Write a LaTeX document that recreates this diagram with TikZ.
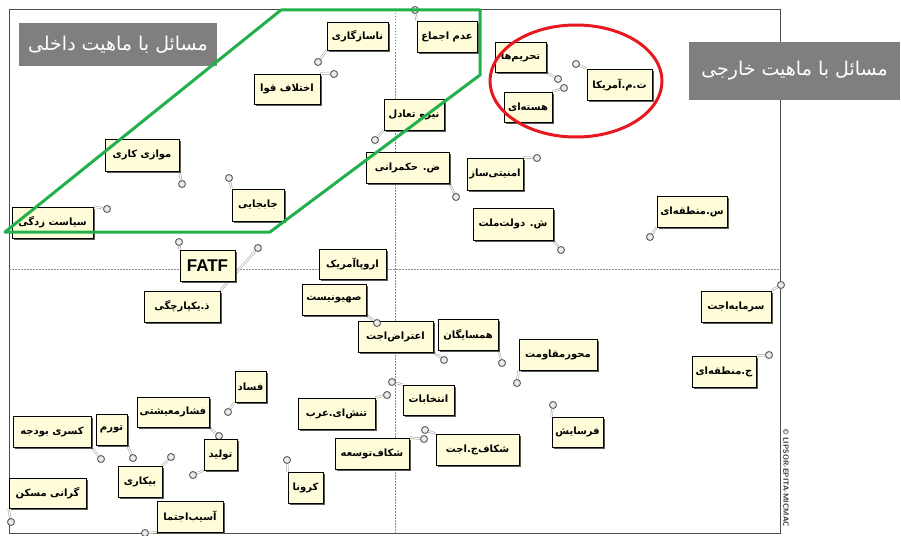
\documentclass[tikz,border=0pt]{standalone}
\usepackage{fontspec}
\usetikzlibrary{shadows}
\TeXXeTstate=1
\newfontfamily\fa[Script=Arabic]{DejaVu Sans}
\newfontfamily\lat{Liberation Sans}
\newcommand{\fr}[1]{\fa\bfseries\beginR #1\endR}
\pgfdeclarelayer{bg}
\pgfdeclarelayer{conn}
\pgfdeclarelayer{top}
\pgfsetlayers{bg,conn,main,top}
\definecolor{boxfill}{HTML}{FFFCDA}
\definecolor{grn}{HTML}{22B04A}
\definecolor{rd}{HTML}{E81820}
\definecolor{graylab}{HTML}{7F7F7F}
\tikzset{
  lb/.style={draw=black, line width=0.9pt, fill=boxfill, inner sep=0pt,
    font=\fontsize{10}{12}\selectfont,
    drop shadow={shadow xshift=2.2pt, shadow yshift=-2.2pt, fill=black!65, opacity=1}},
  pt/.style={circle, draw=black!60, fill=black!8, line width=1pt, minimum size=7pt, inner sep=0pt},
  conn/.style={draw=black!40, double=white, double distance=1.2pt, line width=0.5pt},
  axis/.style={draw=black!45, line width=0.5pt, dash pattern=on 1.5pt off 1.5pt},
  frame/.style={draw=black!70, line width=1pt},
  grp/.style={line width=3pt, line join=round},
  glab/.style={fill=graylab, text=white, inner sep=0pt, font=\fontsize{19}{21}\selectfont}
}
\newcommand{\lab}[9]{%
  \node[lb, minimum width={(#4-#2)*1pt}, minimum height={(#5-#3)*1pt}] (#1) at ({(#2+#4)/2},{(#3+#5)/2}) {#6};
  \node[pt] (p#1) at (#8,#9) {};
  \begin{pgfonlayer}{conn}\draw[conn] (#1.#7) -- (p#1);\end{pgfonlayer}
}
\begin{document}
\begin{tikzpicture}[x=1pt,y=-1pt]
\useasboundingbox (0,0) rectangle (901,535);
\begin{pgfonlayer}{bg}
\fill[white] (0,0) rectangle (901,535);
\draw[frame] (9,10) rectangle (780,533);
\draw[axis] (395,10) -- (395,533);
\draw[axis] (9,269) -- (780,269);
\end{pgfonlayer}
% labels
\lab{a1}{327}{22}{388}{50}{\fr{ناسازگاری}}{south west}{318}{62}
\lab{a2}{254}{74}{320}{104}{\fr{اختلاف قوا}}{north east}{334}{74}
\lab{a3}{417}{21}{477}{52}{\fr{عدم اجماع}}{north west}{415}{10}
\lab{a4}{495}{42}{546}{72}{\fr{تحریم‌ها}}{south east}{558}{79}
\lab{a5}{504}{92}{552}{122}{\fr{هسته‌ای}}{north east}{564}{88}
\lab{a6}{587}{69}{652}{100}{\fr{ت.م.آمریکا}}{north west}{576}{64}
\lab{a7}{384}{99}{444}{130}{\fr{نیرو تعادل}}{south west}{375}{140}
\lab{a8}{366}{152}{449}{183}{\fr{ض. حکمرانی}}{south east}{456}{197}
\lab{a9}{467}{158}{523}{190}{\fr{امنیتی‌ساز}}{north east}{537}{158}
\lab{a10}{473}{208}{553}{240}{\fr{ش. دولت‌ملت}}{south east}{561}{250}
\lab{a11}{657}{196}{727}{227}{\fr{س.منطقه‌ای}}{south west}{650}{237}
\lab{a12}{701}{291}{771}{322}{\fr{سرمایه‌اجت}}{north east}{781}{285}
\lab{a13}{692}{356}{756}{387}{\fr{ج.منطقه‌ای}}{north east}{769}{355}
\lab{a14}{519}{339}{597}{370}{\fr{محورمقاومت}}{south west}{517}{383}
\lab{a15}{438}{319}{498}{350}{\fr{همسایگان}}{south east}{502}{363}
\lab{a16}{358}{321}{433}{352}{\fr{اعتراض‌اجت}}{south east}{444}{360}
\lab{a17}{302}{284}{366}{315}{\fr{صهیونیست}}{south east}{377}{323}
\node[lb, minimum width=67pt, minimum height=30pt] (a18) at (352.5,264) {\fr{اروپاآمریک}};
\lab{a19}{180}{250}{235}{281}{\lat\bfseries\fontsize{17}{18}\selectfont FATF}{north west}{179}{242}
\lab{a20}{144}{291}{220}{322}{\fr{ذ.یکپارچگی}}{north east}{258}{248}
\lab{a21}{12}{207}{93}{238}{\fr{سیاست زدگی}}{north east}{107}{209}
\lab{a22}{232}{189}{284}{221}{\fr{جابجایی}}{north west}{229}{178}
\lab{a23}{105}{139}{179}{171}{\fr{موازی کاری}}{south east}{182}{184}
\lab{a24}{235}{371}{266}{402}{\fr{فساد}}{south west}{228}{412}
\lab{a25}{137}{397}{209}{427}{\fr{فشارمعیشتی}}{south east}{219}{436}
\lab{a26}{204}{439}{237}{470}{\fr{تولید}}{south west}{193}{475}
\lab{a27}{96}{414}{127}{445}{\fr{تورم}}{south east}{133}{458}
\lab{a28}{13}{416}{91}{447}{\fr{کسری بودجه}}{south east}{101}{459}
\lab{a29}{118}{466}{162}{497}{\fr{بیکاری}}{north east}{171}{457}
\lab{a30}{9}{478}{86}{508}{\fr{گرانی مسکن}}{south west}{11}{522}
\lab{a31}{157}{501}{223}{532}{\fr{آسیب‌اجتما}}{south west}{145}{533}
\lab{a32}{288}{472}{323}{503}{\fr{کرونا}}{north west}{287}{460}
\lab{a33}{298}{398}{375}{429}{\fr{تنش‌ای.عرب}}{north east}{387}{395}
\lab{a34}{403}{385}{454}{415}{\fr{انتخابات}}{north west}{392}{382}
\lab{a35}{335}{438}{409}{469}{\fr{شکاف‌توسعه}}{north east}{424}{439}
\lab{a36}{436}{434}{519}{465}{\fr{شکاف‌ج.اجت}}{north west}{425}{430}
\lab{a37}{552}{417}{603}{447}{\fr{فرسایش}}{north west}{553}{405}
% copyright
\node[rotate=-90, text=black!80, font=\sffamily\bfseries\fontsize{7.5}{8}\selectfont] (cr) at (786,478) {© LIPSOR-EPITA-MICMAC};
% group labels
\node[glab, minimum width=198pt, minimum height=43pt] (gin) at (118,44.5) {\fa\beginR مسائل با ماهیت داخلی\endR};
\node[glab, minimum width=211pt, minimum height=58pt] (gout) at (794.5,71) {\fa\beginR مسائل با ماهیت خارجی\endR};
% groups
\begin{pgfonlayer}{top}
\draw[grp, grn] (281,10) -- (480,10) -- (480,75) -- (270,232) -- (5,232) -- cycle;
\draw[grp, rd] (576,81) ellipse [x radius=86, y radius=56];
\end{pgfonlayer}
\end{tikzpicture}
\end{document}
